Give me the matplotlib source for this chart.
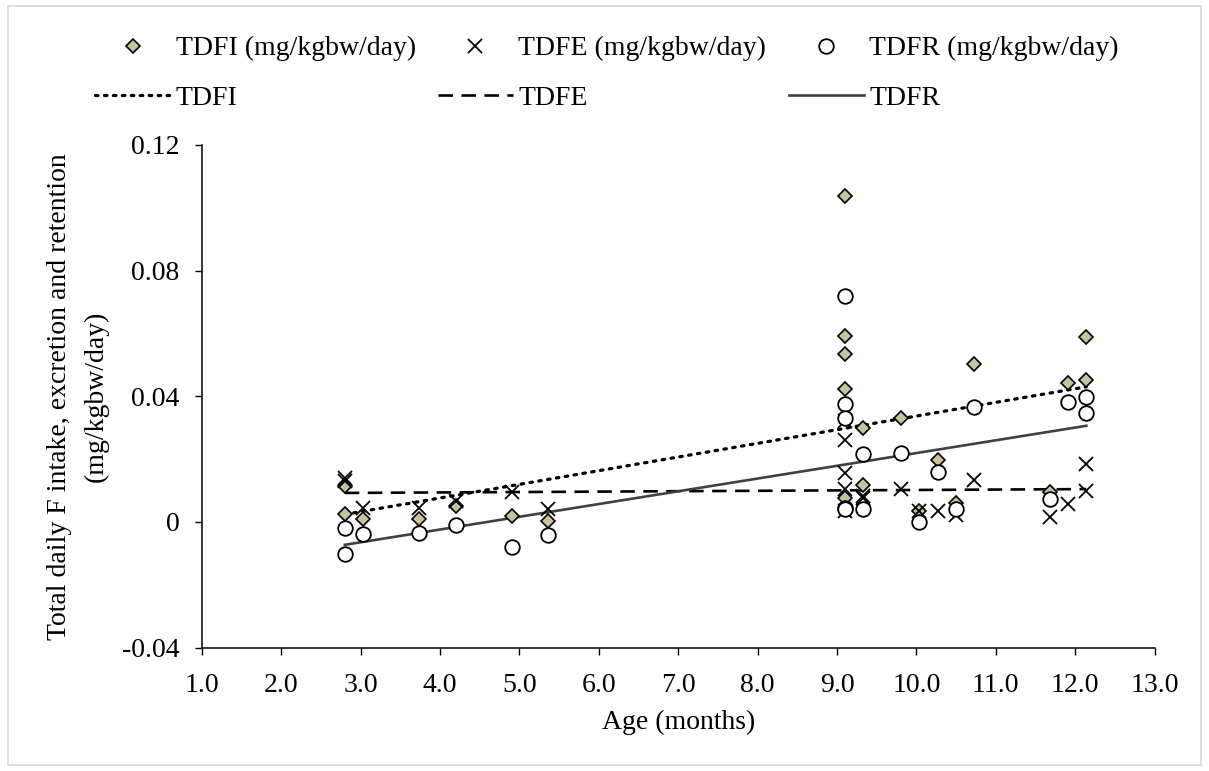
import numpy as np
import matplotlib
matplotlib.use("Agg")
import matplotlib.pyplot as plt
from matplotlib.patches import Rectangle

plt.rcParams["font.family"] = ["Liberation Serif", "DejaVu Serif"]
plt.rcParams["axes.unicode_minus"] = False

# ages (months) for each observation
age = [2.80, 2.80, 3.03, 3.74, 4.20, 4.90, 5.36,
       9.10, 9.10, 9.10, 9.10, 9.10, 9.33, 9.33,
       9.80, 10.03, 10.27, 10.50, 10.73, 11.68, 11.91, 12.14, 12.14]

tdfi = [0.0116, 0.0026, 0.0011, 0.0011, 0.0051, 0.0019, 0.0003,
        0.1036, 0.0591, 0.0535, 0.0424, 0.0077, 0.0300, 0.0119,
        0.0331, 0.0035, 0.0196, 0.0061, 0.0504, 0.0095, 0.0443, 0.0589, 0.0451]

tdfe = [0.0141, 0.0130, 0.0045, 0.0045, 0.0066, 0.0096, 0.0042,
        0.0321, 0.0262, 0.0157, 0.0104, 0.0035, 0.0082, 0.0075,
        0.0106, 0.0035, 0.0035, 0.0021, 0.0135, 0.0016, 0.0056, 0.0185, 0.0100]

tdfr = [-0.0018, -0.0103, -0.0037, -0.0034, -0.0010, -0.0080, -0.0042,
        0.0718, 0.0376, 0.0332, 0.0045, 0.0040, 0.0217, 0.0042,
        0.0220, 0.0000, 0.0160, 0.0040, 0.0366, 0.0072, 0.0381, 0.0398, 0.0347]

xticks = [1.0, 2.0, 3.0, 4.0, 5.0, 6.0, 7.0, 8.0, 9.0, 10.0, 11.0, 12.0, 13.0]
yticks = [-0.04, 0.0, 0.04, 0.08, 0.12]
ytick_labels = ["-0.04", "0", "0.04", "0.08", "0.12"]

FS = 20
tan = "#C9C29E"


def trend(x, y):
    k, b = np.polyfit(x, y, 1)
    xs = np.array([min(x), max(x)])
    return xs, k * xs + b


fig = plt.figure(figsize=(12.09, 7.71), dpi=100)
ax = fig.add_axes([0.167, 0.160, 0.788, 0.652])

x = np.array(age)
l_i, = ax.plot(*trend(x, tdfi), color="black", lw=2.3, linestyle=(0, (0.8, 2.0)),
               dash_capstyle="round", zorder=2)
l_e, = ax.plot(*trend(x, tdfe), color="black", lw=1.9, linestyle=(0, (5.5, 3.2)), zorder=2)
l_r, = ax.plot(*trend(x, tdfr), color="#404040", lw=1.9, zorder=2)

m_i, = ax.plot(age, tdfi, linestyle="none", marker="D", ms=7.4, mfc=tan,
               mec="black", mew=1.2, zorder=3)
m_e, = ax.plot(age, tdfe, linestyle="none", marker="x", ms=10.5, mec="black",
               mew=1.3, zorder=3)
m_r, = ax.plot(age, tdfr, linestyle="none", marker="o", ms=10.5, mfc="white",
               mec="black", mew=1.3, zorder=3)

ax.set_xlim(1.0, 13.0)
ax.set_ylim(-0.04, 0.12)
ax.set_xticks(xticks)
ax.set_xticklabels(["%.1f" % t for t in xticks], fontsize=FS)
ax.set_yticks(yticks)
ax.set_yticklabels(ytick_labels, fontsize=FS)
ax.tick_params(direction="out", length=5, width=1)
ax.tick_params(axis="x", pad=13)
ax.tick_params(axis="y", pad=11)

for s in ["top", "right"]:
    ax.spines[s].set_visible(False)
for s in ["left", "bottom"]:
    ax.spines[s].set_linewidth(1.1)

ax.set_xlabel("Age (months)", fontsize=FS, labelpad=9)
ax.set_ylabel("Total daily F intake, excretion and retention\n(mg/kgbw/day)",
              fontsize=FS, labelpad=9.5, linespacing=1.6)

handles = [m_i, l_i, m_e, l_e, m_r, l_r]
labels = ["TDFI (mg/kgbw/day)", "TDFI",
          "TDFE (mg/kgbw/day)", "TDFE",
          "TDFR (mg/kgbw/day)", "TDFR"]
fig.legend(handles, labels, ncol=3, loc="upper left",
           bbox_to_anchor=(95 / 1209, 1 - 36 / 771), frameon=False,
           fontsize=FS, handlelength=2.7, handletextpad=0.2,
           columnspacing=0.8, labelspacing=0.87, borderpad=0, borderaxespad=0)

fig.patches.append(Rectangle((8 / 1209, 6 / 771), 1 - 16 / 1209, 1 - 12 / 771,
                             transform=fig.transFigure, fill=False,
                             edgecolor="#D9D9D9", lw=1.2))

fig.savefig("out.png", dpi=100)
